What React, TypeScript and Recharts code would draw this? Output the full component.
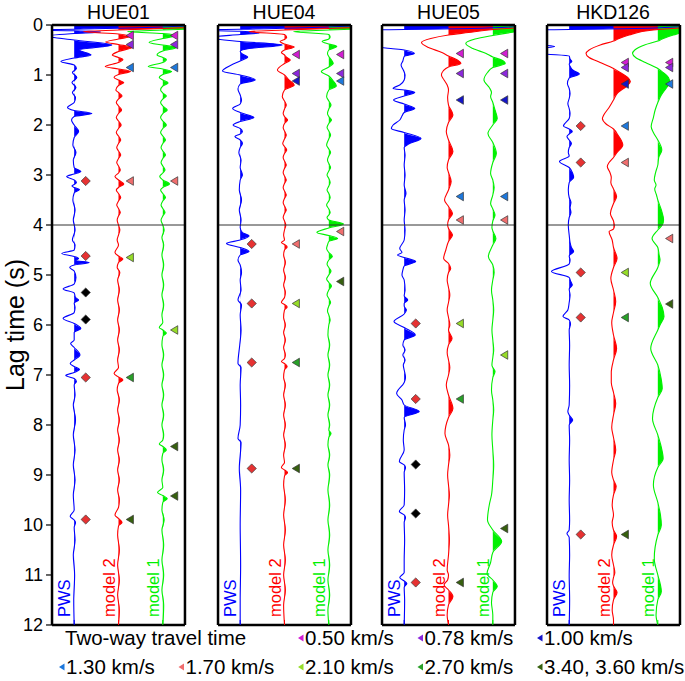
import React from 'react';
import { ComposedChart, Line, Area, Scatter, XAxis, YAxis, ReferenceLine } from 'recharts';

// lag time (s), amplitude (trace units); one series per trace
type Pt = [number, number];
type Mark = [number, number, string];

const stations = ['HUE01', 'HUE04', 'HUE05', 'HKD126'];
const traceNames = ['PWS', 'model 2', 'model 1'];
const lagTicks = [0, 1, 2, 3, 4, 5, 6, 7, 8, 9, 10, 11, 12];
const velocityKeys = ['0.50', '0.78', '1.00', '1.30', '1.70', '2.10', '2.70', '3.40'];
const velocityLabels = ['0.50 km/s', '0.78 km/s', '1.00 km/s', '1.30 km/s', '1.70 km/s', '2.10 km/s', '2.70 km/s', '3.40, 3.60 km/s'];

const hue01Pws: Pt[] = [
  [0, 3], [0.06, 1.2], [0.085, 0], [0.1, -1.2], [0.115, 0], [0.14, 0.6], [0.17, 0], [0.22, -0.6], [0.3, 0],
  [0.4, 0.85], [0.5, 0.12], [0.6, 0.38], [0.66, 0], [0.73, -0.3], [0.8, 0], [0.87, 0.05], [0.95, -0.04],
  [1.05, 0.06], [1.15, -0.05], [1.25, 0.04], [1.35, -0.04], [1.45, 0.03], [1.55, 0], [1.65, -0.15], [1.71, 0],
  [1.77, 0.4], [1.83, 0], [1.9, -0.06], [2.0, 0], [2.13, 0.1], [2.25, 0], [2.4, -0.03], [2.55, 0.04], [2.7, -0.02],
  [2.85, 0], [2.93, 0.15], [2.98, 0], [3.03, -0.17], [3.1, 0], [3.15, 0.05], [3.19, 0], [3.22, -0.05], [3.25, 0],
  [3.29, 0.12], [3.36, 0], [3.5, -0.03], [3.7, 0.02], [3.9, -0.02], [4.1, 0.02], [4.3, -0.04], [4.4, 0.02], [4.5, 0],
  [4.57, -0.28], [4.63, 0], [4.67, 0.1], [4.71, 0.03], [4.75, 0.34], [4.8, 0], [4.85, -0.1], [4.92, 0], [5.05, 0.04],
  [5.18, 0], [5.28, -0.25], [5.36, 0], [5.45, 0.03], [5.5, 0.1], [5.56, 0], [5.65, 0.02], [5.75, 0], [5.87, -0.25],
  [5.97, 0], [6.07, 0.15], [6.15, 0], [6.3, 0], [6.37, -0.08], [6.45, 0], [6.6, 0.13], [6.7, 0], [6.77, -0.09],
  [6.83, 0], [6.89, 0.12], [6.95, 0], [7.01, -0.19], [7.07, 0], [7.13, 0.05], [7.2, 0], [7.4, 0.02], [7.6, -0.02],
  [7.9, 0.03], [8.2, -0.02], [8.5, 0.02], [8.8, -0.02], [9.1, 0.02], [9.4, -0.02], [9.7, 0], [9.83, -0.09], [9.9, 0],
  [9.95, 0.03], [10.05, 0], [10.3, 0.02], [10.6, -0.02], [11.0, 0.01], [11.5, -0.01], [12, 0],
];
const hue01Model2: Pt[] = [
  [0, 3], [0.07, 1.0], [0.1, 0], [0.13, -0.8], [0.18, 0], [0.23, 0.27], [0.28, 0], [0.34, -0.29], [0.39, 0],
  [0.45, 0.3], [0.53, 0], [0.6, -0.14], [0.65, 0], [0.69, 0.1], [0.75, 0], [0.83, -0.3], [0.88, 0], [0.93, 0.27],
  [0.99, 0], [1.05, -0.1], [1.1, 0], [1.15, 0.12], [1.21, 0], [1.3, -0.06], [1.35, 0], [1.42, 0.08], [1.48, 0],
  [1.55, -0.05], [1.62, 0], [1.7, 0.07], [1.77, 0], [1.85, -0.05], [1.92, 0], [2.0, 0.06], [2.07, 0], [2.15, -0.05],
  [2.22, 0], [2.3, 0.05], [2.37, 0], [2.45, -0.04], [2.52, 0], [2.6, 0.05], [2.67, 0], [2.75, -0.04], [2.82, 0],
  [2.9, 0.04], [2.96, 0], [3.03, -0.08], [3.1, 0], [3.18, 0.12], [3.25, 0], [3.3, -0.05], [3.37, 0], [3.45, 0.05],
  [3.52, 0], [3.6, -0.04], [3.67, 0], [3.75, 0.04], [3.82, 0], [3.9, -0.03], [4.0, 0], [4.1, 0.03], [4.2, 0],
  [4.3, -0.03], [4.4, 0], [4.55, -0.08], [4.62, 0], [4.68, 0.1], [4.75, 0], [4.85, -0.03], [4.95, 0.03], [5.1, -0.02],
  [5.3, 0.02], [5.5, -0.02], [5.7, 0.02], [5.9, -0.02], [6.1, 0.02], [6.3, -0.02], [6.5, 0.02], [6.7, -0.02],
  [6.85, 0], [6.97, -0.1], [7.04, 0], [7.1, 0.1], [7.17, 0], [7.3, -0.03], [7.5, 0.02], [7.7, -0.02], [7.9, 0.02],
  [8.1, -0.02], [8.3, 0.02], [8.5, -0.02], [8.7, 0.02], [8.9, -0.02], [9.1, 0.02], [9.3, -0.02], [9.5, 0.02],
  [9.65, 0], [9.8, -0.08], [9.87, 0], [9.95, 0.08], [10.02, 0], [10.2, -0.02], [10.5, 0.02], [10.8, -0.02],
  [11.1, 0.02], [11.4, -0.02], [11.7, 0.02], [12, 0],
];
const hue01Model1: Pt[] = [
  [0, 3], [0.07, 1.0], [0.1, 0], [0.13, -0.8], [0.17, 0], [0.21, 0.31], [0.27, 0], [0.35, -0.31], [0.4, 0],
  [0.45, 0.31], [0.52, 0], [0.6, -0.13], [0.65, 0], [0.69, 0.08], [0.75, 0], [0.83, -0.33], [0.88, 0], [0.93, 0.2],
  [0.99, 0], [1.05, -0.08], [1.1, 0], [1.16, 0.12], [1.22, 0], [1.3, -0.05], [1.36, 0], [1.42, 0.08], [1.48, 0],
  [1.55, -0.05], [1.62, 0], [1.7, 0.1], [1.77, 0], [1.85, -0.05], [1.92, 0], [2.0, 0.08], [2.07, 0], [2.15, -0.05],
  [2.22, 0], [2.3, 0.06], [2.37, 0], [2.45, -0.04], [2.52, 0], [2.6, 0.06], [2.67, 0], [2.75, -0.04], [2.82, 0],
  [2.9, 0.05], [2.96, 0], [3.03, -0.07], [3.1, 0], [3.18, 0.15], [3.25, 0], [3.3, -0.05], [3.37, 0], [3.45, 0.06],
  [3.52, 0], [3.6, -0.04], [3.67, 0], [3.75, 0.05], [3.82, 0], [3.9, -0.04], [4.0, 0], [4.1, 0.03], [4.25, -0.02],
  [4.4, 0.02], [4.6, -0.02], [4.8, 0.02], [5.0, -0.02], [5.2, 0.02], [5.4, -0.02], [5.6, 0.02], [5.8, -0.02],
  [5.95, 0], [6.05, -0.08], [6.1, 0], [6.16, 0.08], [6.23, 0], [6.4, -0.02], [6.6, 0.02], [6.8, -0.02], [7.0, 0.02],
  [7.2, -0.02], [7.4, 0.02], [7.6, -0.02], [7.8, 0.02], [8.0, -0.02], [8.2, 0.02], [8.3, 0], [8.38, -0.08], [8.43, 0],
  [8.5, 0.08], [8.57, 0], [8.7, -0.02], [8.9, 0.02], [9.1, -0.02], [9.25, 0], [9.35, -0.12], [9.41, 0], [9.47, 0.1],
  [9.55, 0], [9.7, -0.02], [9.9, 0.03], [10.1, -0.02], [10.4, 0.02], [10.7, -0.02], [11.0, 0.02], [11.3, -0.02],
  [11.6, 0.02], [12, 0],
];

const hue04Pws: Pt[] = [
  [0, 3], [0.06, 1.2], [0.085, 0], [0.1, -1.2], [0.125, 0], [0.16, 0.43], [0.19, 0], [0.25, -0.7], [0.33, 0],
  [0.4, 0.95], [0.47, 0.2], [0.53, 0], [0.58, 0.05], [0.64, 0.17], [0.72, 0], [0.8, -0.2], [0.92, -0.4], [1.0, 0],
  [1.1, 0.34], [1.18, 0], [1.28, -0.05], [1.4, 0], [1.5, 0.03], [1.58, 0], [1.67, -0.17], [1.75, 0], [1.85, 0.31],
  [1.93, 0], [2.0, -0.16], [2.07, 0], [2.13, 0.05], [2.18, 0], [2.23, -0.12], [2.3, 0], [2.37, 0.05], [2.45, 0],
  [2.55, -0.03], [2.7, 0.02], [2.85, 0], [3.0, 0.05], [3.1, 0], [3.3, -0.02], [3.5, 0.03], [3.7, -0.02], [3.9, 0.02],
  [4.05, 0], [4.15, 0.05], [4.22, 0.2], [4.3, 0], [4.37, -0.31], [4.45, 0], [4.53, 0.2], [4.6, 0], [4.7, -0.05],
  [4.8, 0], [4.95, 0.03], [5.1, 0], [5.3, 0.02], [5.5, -0.05], [5.6, 0.03], [5.8, 0], [6.1, 0.02], [6.4, -0.01],
  [6.77, -0.05], [6.85, 0.02], [7.2, 0], [7.6, 0.01], [8.0, 0], [8.27, -0.05], [8.35, 0.02], [8.87, -0.02],
  [9.3, 0.01], [10, 0], [10.8, 0.01], [11.5, 0], [12, 0],
];
const hue04Model2: Pt[] = [
  [0, 3], [0.07, 1.0], [0.1, 0], [0.13, -0.8], [0.19, 0], [0.25, 0.05], [0.29, 0], [0.33, -0.1], [0.38, 0],
  [0.44, 0.22], [0.5, 0], [0.55, -0.07], [0.6, 0], [0.64, 0.04], [0.7, 0.13], [0.77, 0], [0.9, -0.16], [1.0, 0],
  [1.1, 0.1], [1.2, 0.22], [1.3, 0], [1.43, -0.05], [1.52, 0], [1.6, 0.04], [1.68, 0], [1.77, -0.03], [1.83, 0],
  [1.9, 0.07], [1.97, 0], [2.05, -0.03], [2.12, 0], [2.2, 0.04], [2.28, 0], [2.37, -0.04], [2.43, 0], [2.5, 0.05],
  [2.57, 0], [2.65, -0.03], [2.72, 0], [2.8, 0.04], [2.87, 0], [2.95, -0.03], [3.02, 0], [3.1, 0.04], [3.17, 0],
  [3.25, -0.03], [3.32, 0], [3.4, 0.04], [3.47, 0], [3.55, -0.03], [3.62, 0], [3.7, 0.04], [3.77, 0], [3.85, -0.03],
  [3.92, 0], [4.0, 0.03], [4.1, 0], [4.2, -0.02], [4.3, 0], [4.35, -0.07], [4.39, 0], [4.44, 0.06], [4.5, 0],
  [4.6, -0.02], [4.75, 0.02], [4.9, -0.02], [5.05, 0.02], [5.2, -0.02], [5.35, 0.02], [5.45, 0], [5.55, -0.07],
  [5.59, 0], [5.64, 0.06], [5.7, 0], [5.85, -0.02], [6.0, 0.02], [6.15, -0.02], [6.3, 0.02], [6.45, -0.02],
  [6.6, 0.02], [6.67, 0], [6.73, -0.07], [6.77, 0], [6.83, 0.06], [6.9, 0], [7.05, -0.02], [7.2, 0.02], [7.4, -0.02],
  [7.6, 0.02], [7.8, -0.02], [8.0, 0.02], [8.2, -0.02], [8.4, 0.02], [8.6, -0.02], [8.75, 0], [8.85, -0.07],
  [8.9, 0], [8.95, 0.07], [9.02, 0], [9.2, -0.02], [9.5, 0.02], [9.8, -0.02], [10.1, 0.02], [10.4, -0.02],
  [10.7, 0.02], [11.0, -0.02], [11.3, 0.02], [11.6, -0.02], [12, 0],
];
const hue04Model1: Pt[] = [
  [0, 3], [0.07, 1.0], [0.1, 0], [0.13, -0.8], [0.19, 0], [0.24, 0.03], [0.28, 0], [0.33, -0.15], [0.38, 0],
  [0.43, 0.18], [0.5, 0], [0.57, -0.03], [0.63, 0], [0.7, 0.06], [0.77, 0.1], [0.84, 0], [0.93, -0.17], [1.02, 0],
  [1.12, 0.1], [1.22, 0.17], [1.3, 0], [1.43, -0.05], [1.52, 0], [1.6, 0.05], [1.68, 0], [1.77, -0.03], [1.83, 0],
  [1.9, 0.06], [1.97, 0], [2.05, -0.04], [2.12, 0], [2.2, 0.04], [2.28, 0], [2.4, -0.05], [2.48, 0], [2.55, 0.04],
  [2.62, 0], [2.7, -0.03], [2.77, 0], [2.85, 0.04], [2.92, 0], [3.0, -0.04], [3.07, 0], [3.15, 0.03], [3.22, 0],
  [3.3, -0.04], [3.37, 0], [3.45, 0.03], [3.52, 0], [3.6, -0.05], [3.68, 0], [3.75, 0.03], [3.8, 0], [3.85, -0.04],
  [3.9, 0], [3.98, 0.33], [4.06, 0], [4.15, -0.27], [4.21, 0], [4.27, 0.2], [4.33, 0], [4.4, -0.03], [4.47, -0.05],
  [4.55, 0], [4.63, 0.08], [4.7, 0], [4.78, -0.04], [4.85, 0], [4.92, 0.05], [5.0, 0], [5.08, -0.05], [5.15, 0],
  [5.22, 0.06], [5.3, 0], [5.4, -0.04], [5.47, 0], [5.55, 0.04], [5.62, 0], [5.72, -0.03], [5.8, 0], [5.9, 0.03],
  [6.0, 0], [6.2, -0.02], [6.4, 0.02], [6.6, -0.02], [6.8, 0.02], [7.0, -0.02], [7.2, 0.02], [7.4, -0.02],
  [7.6, 0.02], [7.8, -0.02], [8.0, 0.02], [8.1, 0], [8.17, 0.05], [8.25, 0], [8.4, -0.02], [8.6, 0.02],
  [8.8, -0.02], [9.0, 0.02], [9.3, -0.02], [9.6, 0.02], [9.9, -0.02], [10.2, 0.02], [10.5, -0.02], [10.8, 0.02],
  [11.1, -0.02], [11.4, 0.02], [11.7, -0.02], [12, 0],
];

const hue05Pws: Pt[] = [
  [0, 3], [0.07, 1.5], [0.09, 0], [0.11, -1.5], [0.3, -1.5], [0.42, -0.8], [0.47, -0.3], [0.5, 0], [0.57, 0.23],
  [0.63, 0], [0.72, -0.03], [0.8, -0.07], [0.9, -0.02], [1.0, 0.02], [1.1, 0], [1.2, -0.1], [1.27, -0.25], [1.3, 0],
  [1.35, 0.24], [1.42, 0], [1.5, -0.24], [1.58, 0], [1.67, 0.24], [1.75, 0], [1.82, -0.05], [1.9, -0.1],
  [2.0, -0.25], [2.07, -0.29], [2.15, 0], [2.27, 0.38], [2.38, 0.1], [2.45, 0], [2.6, 0.02], [2.8, 0], [3.0, 0.02],
  [3.2, 0], [3.37, 0.04], [3.5, 0], [3.7, 0.02], [3.9, 0], [4.1, 0.02], [4.3, 0], [4.47, -0.1], [4.55, -0.05],
  [4.6, -0.15], [4.65, 0], [4.73, 0.26], [4.82, 0], [4.9, -0.03], [5.0, -0.05], [5.1, 0], [5.3, 0.02], [5.42, 0],
  [5.5, 0.08], [5.57, 0], [5.62, 0], [5.7, 0.05], [5.78, 0], [5.93, -0.23], [6.05, 0], [6.2, 0.25], [6.3, 0],
  [6.4, -0.03], [6.5, 0.02], [6.6, -0.03], [6.7, 0.02], [6.8, -0.02], [6.9, 0], [7.05, 0.03], [7.15, 0],
  [7.37, -0.17], [7.5, -0.05], [7.6, 0], [7.73, 0.34], [7.85, 0], [8.0, 0.03], [8.1, 0], [8.3, -0.02], [8.5, 0],
  [8.73, -0.11], [8.8, 0], [8.85, 0.03], [8.95, 0], [9.3, 0.01], [9.6, 0], [9.73, -0.11], [9.8, 0], [9.85, 0.03],
  [9.95, 0], [10.3, 0.01], [10.7, 0], [10.95, 0], [11.05, -0.1], [11.12, 0], [11.17, 0.06], [11.25, 0],
  [11.5, 0.01], [12, 0],
];
const hue05Model2: Pt[] = [
  [0, 3], [0.06, 1.5], [0.1, 0.9], [0.15, 0.45], [0.2, 0], [0.27, -0.4], [0.35, -0.61], [0.45, -0.45],
  [0.55, -0.15], [0.62, 0], [0.7, 0.2], [0.77, 0.28], [0.84, 0], [0.92, -0.12], [1.0, -0.16], [1.1, -0.1],
  [1.2, -0.03], [1.3, 0], [1.45, -0.02], [1.6, 0], [1.8, 0.1], [1.95, 0], [2.13, -0.05], [2.3, 0], [2.53, 0.1],
  [2.7, 0], [2.85, -0.03], [2.95, 0], [3.13, 0.06], [3.3, 0], [3.5, -0.09], [3.63, 0], [3.77, 0.09], [3.9, 0],
  [4.0, -0.02], [4.07, 0], [4.2, 0.09], [4.33, 0], [4.5, -0.06], [4.67, -0.11], [4.77, 0], [4.87, 0.05], [4.95, 0],
  [5.1, -0.03], [5.25, 0], [5.4, 0.03], [5.55, 0], [5.7, -0.03], [5.85, 0], [6.0, 0.03], [6.1, 0], [6.27, 0.08],
  [6.4, 0], [6.55, -0.03], [6.7, 0], [6.85, 0.03], [7.0, 0], [7.2, -0.05], [7.4, 0], [7.67, 0.1], [7.85, 0],
  [8.17, -0.08], [8.4, 0], [8.6, 0.03], [8.8, 0], [9.0, -0.02], [9.2, 0], [9.4, 0.02], [9.6, 0], [9.8, -0.02],
  [10.0, 0], [10.3, 0.02], [10.6, 0], [10.9, -0.03], [11.0, 0], [11.1, -0.02], [11.2, -0.1], [11.3, 0],
  [11.43, 0.1], [11.6, 0], [11.8, -0.03], [12, 0],
];
const hue05Model1: Pt[] = [
  [0, 3], [0.06, 1.5], [0.1, 0.8], [0.15, 0.4], [0.21, 0], [0.28, -0.4], [0.37, -0.61], [0.47, -0.45],
  [0.57, -0.15], [0.64, 0], [0.7, 0.2], [0.77, 0.28], [0.85, 0], [0.95, -0.12], [1.1, -0.2], [1.25, -0.08],
  [1.35, -0.03], [1.43, -0.05], [1.55, 0], [1.7, 0.05], [1.87, 0.1], [2.0, 0], [2.17, -0.11], [2.35, 0],
  [2.57, 0.08], [2.75, 0], [2.97, -0.05], [3.1, 0], [3.25, 0.03], [3.4, 0], [3.57, -0.05], [3.68, 0], [3.8, 0.05],
  [3.92, 0], [4.05, -0.02], [4.12, 0], [4.27, 0.07], [4.4, 0], [4.63, -0.1], [4.8, 0], [4.95, 0.03], [5.1, 0],
  [5.3, -0.03], [5.5, 0], [5.7, 0.02], [5.9, 0], [6.1, -0.02], [6.3, 0], [6.5, 0.02], [6.65, 0], [6.8, -0.02],
  [6.85, 0], [6.93, 0.05], [7.05, 0], [7.3, -0.03], [7.5, 0], [7.7, 0.02], [7.9, 0], [8.2, -0.02], [8.5, 0],
  [8.8, 0.02], [9.1, 0], [9.4, -0.03], [9.6, -0.08], [9.9, -0.12], [10.1, 0], [10.33, 0.2], [10.55, 0],
  [10.75, -0.05], [10.97, -0.13], [11.1, 0], [11.23, 0.1], [11.35, 0], [11.55, -0.03], [11.8, 0], [12, 0],
];

const hkd126Pws: Pt[] = [
  [0, 3], [0.07, 1.5], [0.09, 0], [0.11, -1.5], [0.3, -1.3], [0.4, -0.6], [0.43, -0.33], [0.46, -0.6],
  [0.52, -1.0], [0.58, -0.55], [0.62, 0], [0.68, 0.02], [0.73, 0.06], [0.78, 0], [0.84, 0.03], [0.9, 0.08],
  [0.98, 0.23], [1.06, 0], [1.17, -0.04], [1.27, 0], [1.37, 0.02], [1.47, 0], [1.57, -0.03], [1.67, 0],
  [1.77, 0.02], [1.87, 0], [2.02, -0.13], [2.08, 0], [2.13, 0.07], [2.18, 0], [2.23, -0.05], [2.3, 0], [2.37, 0.05],
  [2.45, 0], [2.55, -0.02], [2.62, 0], [2.73, -0.22], [2.85, 0], [2.97, 0.08], [3.05, 0.1], [3.15, 0],
  [3.3, -0.02], [3.45, 0], [3.55, 0.04], [3.65, 0.02], [3.75, 0.04], [3.85, 0], [4.0, -0.02], [4.2, 0],
  [4.35, 0.02], [4.45, 0.05], [4.53, 0.1], [4.62, 0], [4.7, 0.02], [4.78, 0], [4.93, -0.4], [5.05, 0],
  [5.12, 0.03], [5.2, 0.07], [5.28, 0], [5.4, 0.02], [5.55, 0], [5.7, -0.03], [5.83, -0.14], [5.9, 0],
  [5.98, 0.03], [6.1, 0], [6.4, 0.01], [6.8, 0], [7.2, 0.01], [7.6, 0], [7.73, -0.03], [7.8, 0], [7.9, 0.08],
  [8.0, 0], [8.3, 0.01], [8.7, 0], [9.1, 0.01], [9.5, 0], [9.9, 0.01], [10.1, 0], [10.17, -0.05], [10.25, 0],
  [10.6, 0.01], [11, 0], [11.5, 0.01], [12, 0],
];
const hkd126Model2: Pt[] = [
  [0, 3], [0.06, 1.5], [0.1, 0.9], [0.2, 0.35], [0.28, 0.1], [0.32, 0], [0.4, -0.3], [0.5, -0.55], [0.57, -0.62],
  [0.65, -0.55], [0.75, -0.3], [0.87, 0], [0.95, 0.15], [1.05, 0.32], [1.13, 0.38], [1.22, 0.3], [1.35, 0.1],
  [1.5, 0], [1.65, -0.1], [1.8, -0.22], [1.87, -0.25], [1.97, -0.18], [2.08, 0], [2.2, 0.1], [2.4, 0.21],
  [2.55, 0.08], [2.65, 0], [2.75, -0.1], [2.83, -0.14], [2.95, -0.08], [3.05, -0.05], [3.15, -0.06], [3.28, 0],
  [3.43, 0.07], [3.57, 0], [3.77, -0.07], [3.92, 0], [4.02, 0.02], [4.08, 0], [4.13, -0.1], [4.3, -0.03],
  [4.45, 0], [4.67, 0.08], [4.85, 0], [5.07, -0.06], [5.3, 0], [5.53, 0.05], [5.75, 0], [5.95, -0.04], [6.2, 0],
  [6.47, 0.07], [6.7, 0], [6.95, -0.05], [7.15, -0.05], [7.35, 0], [7.57, 0.05], [7.8, 0], [8.05, -0.04],
  [8.25, 0], [8.5, 0.05], [8.7, 0], [8.95, -0.04], [9.1, 0], [9.23, 0.06], [9.4, 0], [9.6, -0.03], [9.8, 0],
  [9.95, -0.03], [10.1, 0], [10.23, 0.07], [10.4, 0], [10.6, -0.04], [10.8, 0], [10.95, 0.03], [11.05, 0],
  [11.15, -0.02], [11.22, 0], [11.35, 0.08], [11.5, 0], [11.7, -0.03], [11.9, 0], [12, 0],
];
const hkd126Model1: Pt[] = [
  [0, 3], [0.06, 1.5], [0.1, 0.9], [0.2, 0.35], [0.28, 0.1], [0.32, 0], [0.4, -0.3], [0.5, -0.52], [0.57, -0.57],
  [0.65, -0.5], [0.75, -0.28], [0.87, 0], [0.95, 0.12], [1.05, 0.24], [1.15, 0.27], [1.25, 0.2], [1.4, 0.08],
  [1.55, 0], [1.7, -0.06], [1.85, -0.1], [2.03, -0.15], [2.15, -0.1], [2.3, 0], [2.5, 0.09], [2.65, 0.02],
  [2.8, 0], [2.95, -0.05], [3.1, -0.08], [3.2, -0.04], [3.28, -0.07], [3.4, -0.03], [3.5, 0], [3.7, 0.08],
  [3.9, 0.13], [4.0, 0.1], [4.1, 0], [4.27, -0.13], [4.45, 0], [4.6, 0.03], [4.7, 0.05], [4.85, 0], [5.17, -0.17],
  [5.45, 0], [5.65, 0.1], [5.83, 0.14], [6.0, 0.05], [6.1, 0], [6.47, -0.16], [6.8, 0], [7.05, 0.07], [7.27, 0.1],
  [7.45, 0], [7.87, -0.12], [8.2, 0], [8.45, 0.08], [8.67, 0.12], [8.85, 0], [9.2, -0.1], [9.55, 0], [9.8, 0.06],
  [10.0, 0.08], [10.2, 0], [10.67, -0.08], [11.0, 0], [11.2, 0.06], [11.33, 0.08], [11.5, 0], [11.8, -0.04],
  [12, 0],
];

// [trace, lag time, pick type]
const hue01Marks: Mark[] = [
  [0, 3.12, 'match'], [0, 4.62, 'match'], [0, 5.35, 'other'], [0, 5.89, 'other'], [0, 7.05, 'match'], [0, 9.89, 'match'],
  [1, 0.21, '0.50'], [1, 0.39, '0.78'], [1, 0.85, '1.30'], [1, 3.12, '1.70'], [1, 4.65, '2.10'], [1, 7.05, '2.70'], [1, 9.89, '3.40'],
  [2, 0.21, '0.50'], [2, 0.39, '0.78'], [2, 0.85, '1.30'], [2, 3.12, '1.70'], [2, 6.1, '2.10'], [2, 8.43, '3.40'], [2, 9.42, '3.40'],
];
const hue04Marks: Mark[] = [
  [0, 4.38, 'match'], [0, 5.57, 'match'], [0, 6.75, 'match'], [0, 8.87, 'match'],
  [1, 0.59, '0.50'], [1, 0.97, '0.78'], [1, 1.12, '1.00'], [1, 4.38, '1.70'], [1, 5.57, '2.10'], [1, 6.75, '2.70'], [1, 8.87, '3.40'],
  [2, 0.59, '0.50'], [2, 0.97, '0.78'], [2, 1.12, '1.30'], [2, 4.13, '1.70'], [2, 5.13, '3.40'],
];
const hue05Marks: Mark[] = [
  [0, 5.97, 'match'], [0, 7.48, 'match'], [0, 8.79, 'other'], [0, 9.77, 'other'], [0, 11.15, 'match'],
  [1, 0.57, '0.50'], [1, 0.97, '0.78'], [1, 1.5, '1.00'], [1, 3.43, '1.30'], [1, 3.9, '1.70'], [1, 5.97, '2.10'], [1, 7.48, '2.70'], [1, 11.15, '3.40'],
  [2, 0.57, '0.50'], [2, 0.97, '0.78'], [2, 1.5, '1.00'], [2, 3.43, '1.30'], [2, 3.9, '1.70'], [2, 6.6, '2.10'], [2, 10.07, '3.40'],
];
const hkd126Marks: Mark[] = [
  [0, 2.02, 'match'], [0, 2.75, 'match'], [0, 4.95, 'match'], [0, 5.85, 'match'], [0, 10.19, 'match'],
  [1, 0.75, '0.50'], [1, 0.85, '0.78'], [1, 1.18, '1.00'], [1, 2.02, '1.30'], [1, 2.75, '1.70'], [1, 4.95, '2.10'], [1, 5.85, '2.70'], [1, 10.19, '3.40'],
  [2, 0.75, '0.50'], [2, 0.85, '0.78'], [2, 1.18, '1.30'], [2, 4.27, '1.70'], [2, 5.58, '3.40'],
];

const panelTraces = [
  [hue01Pws, hue01Model2, hue01Model1],
  [hue04Pws, hue04Model2, hue04Model1],
  [hue05Pws, hue05Model2, hue05Model1],
  [hkd126Pws, hkd126Model2, hkd126Model1],
];
const panelMarks = [hue01Marks, hue04Marks, hue05Marks, hkd126Marks];

// styling
const FONT = '"Liberation Sans", Arial, Helvetica, sans-serif';
const traceColors = ['#0000ff', '#ff0000', '#00f000'];
const pickColors: Record<string, string> = {
  '0.50': '#d21ed2', '0.78': '#8c28dc', '1.00': '#1414c8', '1.30': '#1e78dc',
  '1.70': '#f06e6e', '2.10': '#96dc28', '2.70': '#28a028', '3.40': '#37600f',
  match: '#e63232', other: '#000000',
};
const PLOT_W = 133;
const AX = 0.01; // near-zero axis size so that axes still render
const panelLefts = [52, 217.5, 382, 546.5];
const markShift = 0.26;
const frameLine = { stroke: '#000', strokeWidth: 2.5 };
const minorTicks = Array.from({ length: 121 }, (_, i) => i / 10);

const MarkShape = (props: any) => {
  const { cx, cy, payload } = props;
  const fill = pickColors[payload.kind];
  if (payload.kind === 'match' || payload.kind === 'other') {
    const r = 4.6;
    return (
      <polygon
        points={`${cx},${cy - r} ${cx + r},${cy} ${cx},${cy + r} ${cx - r},${cy}`}
        fill={fill}
        stroke="#333"
        strokeWidth={0.7}
      />
    );
  }
  return (
    <polygon
      points={`${cx - 3.8},${cy} ${cx + 3.4},${cy - 4.3} ${cx + 3.4},${cy + 4.3}`}
      fill={fill}
      stroke="#333"
      strokeWidth={0.7}
    />
  );
};

const NameShape = (props: any) => {
  const { cx, cy, payload } = props;
  return (
    <text
      x={cx}
      y={cy}
      transform={`rotate(-90 ${cx} ${cy})`}
      fill={traceColors[payload.trace]}
      fontSize={16.5}
      fontFamily={FONT}
    >
      {payload.name}
    </text>
  );
};

const BaseTick = (props: any) => {
  const { x, y, payload } = props;
  return <line x1={x} x2={x} y1={y - 5} y2={y} stroke={traceColors[payload.value - 1]} strokeWidth={1} />;
};

function Panel({ idx }: { idx: number }) {
  const left = panelLefts[idx];
  const ml = idx === 0 ? left : 30;
  const traces = panelTraces[idx];
  const marks = panelMarks[idx].map(([tr, t, kind]) => ({ x: tr + 1 + markShift, t, kind }));
  const names = traceNames.map((name, i) => ({ x: i + 1 - 0.09, t: 11.84, name, trace: i }));

  return (
    <div style={{ position: 'absolute', left: left - ml, top: 0 }}>
      <ComposedChart
        layout="vertical"
        width={ml + PLOT_W + 30}
        height={681}
        margin={{ top: 25, right: 30, bottom: 56, left: ml }}
      >
        <XAxis
          type="number"
          dataKey="x"
          domain={[0.5, 3.5]}
          allowDataOverflow
          ticks={[1, 2, 3]}
          height={AX}
          tickSize={0}
          tickMargin={0}
          axisLine={false}
          tickLine={false}
          tick={<BaseTick />}
        />
        <YAxis
          type="number"
          dataKey="t"
          domain={[0, 12]}
          allowDataOverflow
          width={AX}
          ticks={lagTicks}
          interval={0}
          tickSize={6}
          tickMargin={3}
          axisLine={false}
          tickLine={{ stroke: '#000', strokeWidth: 1.2 }}
          tick={idx === 0 ? { fill: '#000', fontSize: 18, fontFamily: FONT } : false}
        />
        <YAxis yAxisId="minL" type="number" domain={[0, 12]} width={AX} ticks={minorTicks} interval={0}
          tickSize={3} axisLine={false} tickLine={{ stroke: '#000', strokeWidth: 0.9 }} tick={false} />
        <YAxis yAxisId="majR" orientation="right" type="number" domain={[0, 12]} width={AX} ticks={lagTicks}
          interval={0} tickSize={6} axisLine={false} tickLine={{ stroke: '#000', strokeWidth: 1.2 }} tick={false} />
        <YAxis yAxisId="minR" orientation="right" type="number" domain={[0, 12]} width={AX} ticks={minorTicks}
          interval={0} tickSize={3} axisLine={false} tickLine={{ stroke: '#000', strokeWidth: 0.9 }} tick={false} />

        {traces.map((tr, i) => (
          <Area
            key={`a${i}`}
            data={tr.map(([t, a]) => ({ t, v: Math.max(a, 0) + i + 1 }))}
            dataKey="v"
            type="monotone"
            baseValue={i + 1}
            stroke="none"
            fill={traceColors[i]}
            fillOpacity={1}
            isAnimationActive={false}
          />
        ))}
        {traces.map((tr, i) => (
          <Line
            key={`l${i}`}
            data={tr.map(([t, a]) => ({ t, v: a + i + 1 }))}
            dataKey="v"
            type="monotone"
            stroke={traceColors[i]}
            strokeWidth={1.1}
            dot={false}
            isAnimationActive={false}
          />
        ))}
        <ReferenceLine y={4} stroke="#333" strokeWidth={1} />
        <Scatter data={marks} shape={<MarkShape />} isAnimationActive={false} />
        <Scatter data={names} shape={<NameShape />} isAnimationActive={false} />

        <XAxis xAxisId="frameB" type="number" domain={[0.5, 3.5]} height={AX} axisLine={frameLine} tick={false} tickLine={false} />
        <XAxis xAxisId="frameT" orientation="top" type="number" domain={[0.5, 3.5]} height={AX} axisLine={frameLine} tick={false} tickLine={false} />
        <YAxis yAxisId="frameL" type="number" domain={[0, 12]} width={AX} axisLine={frameLine} tick={false} tickLine={false} />
        <YAxis yAxisId="frameR" orientation="right" type="number" domain={[0, 12]} width={AX} axisLine={frameLine} tick={false} tickLine={false} />
      </ComposedChart>
    </div>
  );
}

const LegendTri = ({ x, y, color }: { x: number; y: number; color: string }) => (
  <polygon points={`${x - 3},${y} ${x + 2.5},${y - 3.5} ${x + 2.5},${y + 3.5}`} fill={color} />
);

export default function App() {
  const colX = (c: number) => 62 + 119.5 * c;
  const legendRows = [
    velocityKeys.slice(0, 3).map((k, j) => ({ k, label: velocityLabels[j], col: j + 2, row: 0 })),
    velocityKeys.slice(3).map((k, j) => ({ k, label: velocityLabels[j + 3], col: j, row: 1 })),
  ].flat();
  const rowY = [645, 674];

  return (
    <div style={{ position: 'absolute', left: 0, top: 0, width: 685, height: 681, background: '#fff', overflow: 'hidden' }}>
      {stations.map((s, i) => (
        <Panel key={s} idx={i} />
      ))}
      <svg width={685} height={681} style={{ position: 'absolute', left: 0, top: 0, pointerEvents: 'none' }}>
        {stations.map((s, i) => (
          <text key={s} x={panelLefts[i] + PLOT_W / 2} y={18.5} textAnchor="middle" fontSize={19.5} fontFamily={FONT} fill="#000">
            {s}
          </text>
        ))}
        <text transform="translate(24,325) rotate(-90)" textAnchor="middle" fontSize={25} fontFamily={FONT} fill="#000">
          Lag time (s)
        </text>
        <text x={65} y={rowY[0]} fontSize={20.5} fontFamily={FONT} fill="#000">
          Two-way travel time
        </text>
        {legendRows.map((e) => (
          <g key={e.k}>
            <LegendTri x={colX(e.col)} y={rowY[e.row] - 7} color={pickColors[e.k]} />
            <text x={colX(e.col) + 4} y={rowY[e.row]} fontSize={20.5} fontFamily={FONT} fill="#000">
              {e.label}
            </text>
          </g>
        ))}
      </svg>
    </div>
  );
}
